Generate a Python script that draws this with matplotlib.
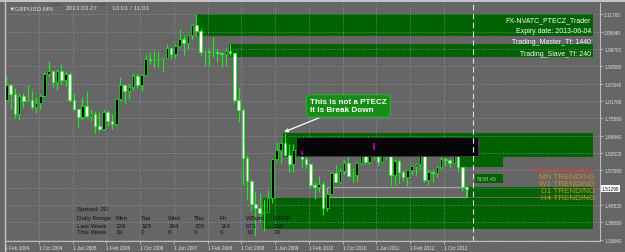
import matplotlib.pyplot as plt
from matplotlib.patches import Rectangle
from matplotlib.lines import Line2D
import numpy as np

plt.rcParams['font.family'] = ['Liberation Sans', 'DejaVu Sans']

# GBPUSD monthly bars, Feb 2004 .. Mar 2013
opens = [1.8200, 1.8700, 1.8400, 1.7700, 1.8340, 1.8150, 1.8200, 1.7950, 1.8100, 1.8350, 1.9100,
         1.9200, 1.8830, 1.9200, 1.8900, 1.9100, 1.8200, 1.7900, 1.7600, 1.8000, 1.7650, 1.7700, 1.7300,
         1.7200, 1.7780, 1.7470, 1.7370, 1.8240, 1.8700, 1.8500, 1.8650, 1.9040, 1.8720, 1.9080, 1.9630,
         1.9580, 1.9600, 1.9620, 1.9660, 2.0000, 1.9800, 2.0060, 2.0310, 2.0160, 2.0440, 2.0800, 2.0600,
         1.9850, 1.9900, 1.9870, 1.9850, 1.9830, 1.9780, 1.9900, 1.9830, 1.8200, 1.7840, 1.6200, 1.5380,
         1.4600, 1.4460, 1.4300, 1.4330, 1.4790, 1.6150, 1.6450, 1.6700, 1.6300, 1.5990, 1.6480, 1.6450,
         1.6150, 1.5980, 1.5240, 1.5180, 1.5290, 1.4460, 1.4950, 1.5680, 1.5340, 1.5740, 1.6030, 1.5560,
         1.5610, 1.6030, 1.6260, 1.6040, 1.6700, 1.6460, 1.6060, 1.6430, 1.6250, 1.5590, 1.6080, 1.5690,
         1.5540, 1.5760, 1.5910, 1.5990, 1.6240, 1.5410, 1.5690, 1.5680, 1.5880, 1.6160, 1.6130, 1.6020,
         1.6260, 1.5860, 1.5170]
highs = [1.9050, 1.8760, 1.8600, 1.8450, 1.8430, 1.8700, 1.8500, 1.8300, 1.8400, 1.9150, 1.9550,
         1.9200, 1.9280, 1.9450, 1.9210, 1.9150, 1.8430, 1.7900, 1.8300, 1.8520, 1.7880, 1.7800, 1.7780,
         1.7880, 1.7860, 1.7700, 1.8250, 1.9000, 1.8760, 1.8740, 1.9130, 1.9140, 1.9110, 1.9790, 1.9850,
         1.9900, 1.9850, 1.9700, 2.0130, 2.0000, 2.0150, 2.0660, 2.0440, 2.0500, 2.0840, 2.1160, 2.0700,
         1.9920, 1.9940, 2.0390, 1.9960, 1.9850, 1.9990, 2.0150, 1.9840, 1.8620, 1.7920, 1.6300, 1.5470,
         1.5060, 1.4990, 1.4780, 1.5080, 1.6190, 1.6740, 1.6740, 1.7040, 1.6660, 1.6690, 1.6880, 1.6560,
         1.6460, 1.5990, 1.5340, 1.5580, 1.5380, 1.5060, 1.5710, 1.5960, 1.5840, 1.6110, 1.6300, 1.5850,
         1.6060, 1.6280, 1.6410, 1.6740, 1.6750, 1.6490, 1.6480, 1.6620, 1.6300, 1.6140, 1.6170, 1.5780,
         1.5790, 1.5960, 1.6000, 1.6300, 1.6270, 1.5780, 1.5790, 1.5910, 1.6310, 1.6180, 1.6140, 1.6310,
         1.6380, 1.5860, 1.5210]
lows = [1.8150, 1.7900, 1.7570, 1.7500, 1.7930, 1.8120, 1.7900, 1.7750, 1.7880, 1.8290, 1.9000,
        1.8650, 1.8550, 1.8750, 1.8670, 1.8140, 1.7850, 1.7270, 1.7520, 1.7580, 1.7460, 1.7050, 1.7130,
        1.7150, 1.7280, 1.7200, 1.7290, 1.8200, 1.8050, 1.8230, 1.8560, 1.8600, 1.8500, 1.9040, 1.9440,
        1.9350, 1.9340, 1.9180, 1.9640, 1.9650, 1.9650, 2.0050, 1.9740, 1.9960, 2.0260, 2.0420, 1.9730,
        1.9360, 1.9360, 1.9690, 1.9520, 1.9350, 1.9360, 1.9730, 1.8110, 1.7440, 1.5250, 1.4720, 1.4360,
        1.3500, 1.3980, 1.3660, 1.4340, 1.4620, 1.6070, 1.6000, 1.6260, 1.5710, 1.5700, 1.6260, 1.5890,
        1.5840, 1.5150, 1.4780, 1.5020, 1.4230, 1.4350, 1.4940, 1.5340, 1.5300, 1.5650, 1.5530, 1.5350,
        1.5350, 1.5960, 1.5980, 1.5990, 1.6160, 1.5910, 1.6000, 1.6110, 1.5270, 1.5270, 1.5330, 1.5390,
        1.5230, 1.5600, 1.5600, 1.5800, 1.5360, 1.5270, 1.5370, 1.5520, 1.5820, 1.5910, 1.5830, 1.6000,
        1.5720, 1.5030, 1.4830]
closes = [1.8700, 1.8400, 1.7700, 1.8340, 1.8150, 1.8200, 1.7950, 1.8100, 1.8350, 1.9100, 1.9200,
          1.8830, 1.9200, 1.8900, 1.9100, 1.8200, 1.7900, 1.7600, 1.8000, 1.7650, 1.7700, 1.7300, 1.7200,
          1.7780, 1.7470, 1.7370, 1.8240, 1.8700, 1.8500, 1.8650, 1.9040, 1.8720, 1.9080, 1.9630, 1.9580,
          1.9600, 1.9620, 1.9660, 2.0000, 1.9800, 2.0060, 2.0310, 2.0160, 2.0440, 2.0800, 2.0600, 1.9850,
          1.9900, 1.9870, 1.9850, 1.9830, 1.9780, 1.9900, 1.9830, 1.8200, 1.7840, 1.6200, 1.5380, 1.4600,
          1.4460, 1.4300, 1.4330, 1.4790, 1.6150, 1.6450, 1.6700, 1.6300, 1.5990, 1.6480, 1.6450, 1.6150,
          1.5980, 1.5240, 1.5180, 1.5290, 1.4460, 1.4950, 1.5680, 1.5340, 1.5740, 1.6030, 1.5560, 1.5610,
          1.6030, 1.6260, 1.6040, 1.6700, 1.6460, 1.6060, 1.6430, 1.6250, 1.5590, 1.6080, 1.5690, 1.5540,
          1.5760, 1.5910, 1.5990, 1.6240, 1.5410, 1.5690, 1.5680, 1.5880, 1.6160, 1.6130, 1.6020, 1.6260,
          1.5860, 1.5170, 1.5129]

time_labels = ["1 Feb 2004", "1 Oct 2004", "1 Jun 2005", "1 Feb 2006", "1 Oct 2006", "1 Jun 2007",
               "1 Feb 2008", "1 Oct 2008", "1 Jun 2009", "1 Feb 2010", "1 Oct 2010", "1 Jun 2011",
               "1 Feb 2012", "1 Oct 2012"]
time_ticks = [0, 8, 16, 24, 32, 40, 48, 56, 64, 72, 80, 88, 96, 104]   # bar index
price_labels = ["2.11760", "2.05640", "1.99700", "1.93580", "1.87640", "1.81700", "1.75580",
                "1.69640", "1.63520", "1.57580", "1.45520", "1.39580", "1.33640"]
price_ticks = [2.1176, 2.0564, 1.9970, 1.9358, 1.8764, 1.8170, 1.7558,
               1.6964, 1.6352, 1.5758, 1.4552, 1.3958, 1.3364]
hidden_grid = [1.5164]
bid = 1.5129

# supply / demand zones: (first bar, last bar, top, bottom)
zones = [(44.9, 139.0, 2.1160, 2.0400),
         (52.7, 139.0, 2.0150, 1.9690),
         (65.5, 139.0, 1.7040, 1.6230),
         (106.8, 117.7, 1.6223, 1.5876),
         (109.1, 139.0, 1.5184, 1.4837),
         (60.8, 139.0, 1.4803, 1.3729)]
outline_box = (76.0, 109.1, 1.5184, 1.4837)
black_box = (68.8, 111.7, 1.6881, 1.6257)
magenta_x = [70, 87]
magenta_lo = [1.6300, 1.6449]
magenta_hi = [1.6425, 1.6691]
value_box = (111.0, 117.7, 1.5634, 1.5322)
value_text = "5158.45"
now_line = 110.5

header = ["FX-NVATC_PTECZ_Trader", "Expiry date: 2013-06-04", "Trading_Master_Tf: 1440", "Trading_Slave_Tf: 240"]
trend_labels = ["MN TRENDING", "W1 TRENDING", "D1 TRENDING", "H4 TRENDING"]
days = ["Mon", "Tue", "Wed", "Thu", "Fri", "WSum", "WADR"]
last_week = [126, 115, 164, 155, 114, 673, 135]
this_week = [19, 0, 0, 0, 0, 19, 19]
spread = 20

BG = '#666666'
GRID = '#8e9cad'
LIME = '#19f019'
ZONE = '#006200'
INK = '#111111'
W, H = 625, 253


def fx(x):
    return x / W


def fy(y):
    return 1 - y / H


fig = plt.figure(figsize=(6.25, 2.53), dpi=100)
fig.patch.set_facecolor(BG)
ax = fig.add_axes([fx(5), fy(242), 595 / W, 238 / H])
ax.set_facecolor(BG)
ax.set_xlim(-0.355, 140.64)
ax.set_ylim(1.3313, 2.1557)

# window frame
fig.patches.append(Rectangle((0, fy(3)), 1, 3 / H, transform=fig.transFigure, fc='#c4c4c4', ec='none'))
fig.lines.append(Line2D([fx(5), fx(5)], [0, fy(3)], transform=fig.transFigure, color='#c4c4c4', lw=1))

for s in ['left', 'top']:
    ax.spines[s].set_visible(False)
for s in ['right', 'bottom']:
    ax.spines[s].set_color('#bdbdbd')
    ax.spines[s].set_linewidth(0.8)

# grid
xl = ax.get_xlim()
yl = ax.get_ylim()
tick_pos = [t - 0.35 for t in time_ticks]
ax.hlines(price_ticks + hidden_grid, xl[0], xl[1], colors=GRID, linestyles=(0, (1, 2)), lw=0.6, zorder=1.5)
ax.vlines(tick_pos, yl[0], yl[1], colors=GRID, linestyles=(0, (1, 2)), lw=0.6, zorder=1.5)

# zones
for a, b, top, bot in zones:
    ax.add_patch(Rectangle((a, bot), b - a, top - bot, fc=ZONE, ec='none', zorder=1))
a, b, top, bot = outline_box
ax.add_patch(Rectangle((a, bot), b - a, top - bot, fc='none', ec='#a2a2a2', lw=0.8, zorder=1.2))
a, b, top, bot = value_box
ax.add_patch(Rectangle((a, bot), b - a, top - bot, fc=ZONE, ec='none', zorder=1))
ax.text(a + 0.5, (top + bot) / 2, value_text, fontsize=4, color='#a9cfa9', va='center', ha='left', zorder=5)

# candles
idx = np.arange(len(opens))
o = np.array(opens)
h = np.array(highs)
l = np.array(lows)
c = np.array(closes)
ax.vlines(idx, l, h, color=LIME, lw=0.8, zorder=2)
up = c >= o
ax.bar(idx, np.maximum(np.abs(c - o), 0.002), bottom=np.minimum(o, c), width=0.62,
       color=np.where(up, 'black', 'white'), edgecolor=LIME, lw=0.5, zorder=3)

# black panel over the range
a, b, top, bot = black_box
ax.add_patch(Rectangle((a + 0.5, bot - 0.004), b - a, top - bot, fc='#3c3c3c', ec='none', zorder=3.9))
ax.add_patch(Rectangle((a, bot), b - a, top - bot, fc='#050505', ec='none', zorder=4))
ax.vlines(magenta_x, magenta_lo, magenta_hi, color='#c000c0', lw=1.2, zorder=5)

ax.axvline(now_line, color='#dedede', ls=(0, (5, 3)), lw=0.8, zorder=4)

ax.annotate("This is not a PTECZ\nIt is Break Down", xy=(65.8, 1.709), xytext=(81, 1.799),
            ha='center', va='center', multialignment='left', fontsize=5.9, fontweight='bold', color='white',
            bbox=dict(boxstyle='round,pad=0.45,rounding_size=0.5', fc='#178c17', ec='#3aa83a', lw=0.8),
            arrowprops=dict(arrowstyle='-|>', color='white', lw=0.9, mutation_scale=5, shrinkA=0, shrinkB=0),
            zorder=6)

# axes ticks
ax.yaxis.tick_right()
ax.set_yticks(price_ticks, price_labels)
ax.set_xticks(tick_pos, time_labels)
ax.tick_params(axis='y', length=2, width=0.6, color='#bdbdbd', pad=1, labelsize=3.4, labelcolor='#e4e4e4')
ax.tick_params(axis='x', length=2, width=0.6, color='#bdbdbd', pad=1, labelsize=3.4, labelcolor='#e4e4e4')
for lab in ax.get_xticklabels():
    lab.set_ha('left')
ax.text(1.003, bid, "1.51290", transform=ax.get_yaxis_transform(), fontsize=3.4, color='black',
        va='center', ha='left', bbox=dict(boxstyle='square,pad=0.15', fc='white', ec='none'), zorder=6)

# title
fig.text(fx(9), fy(9), "\u25bcGBPUSD,MN", fontsize=4.6, color='#dcdcdc', va='center')
fig.text(fx(49), fy(5.5), "1.51320", fontsize=2.6, color='#444444', va='center')
fig.text(fx(66), fy(9), "2013.03.27", fontsize=4.6, color='#dcdcdc', va='center')
fig.text(fx(94), fy(5.5), "1.51290", fontsize=2.6, color='#444444', va='center')
fig.text(fx(112), fy(9), "10:01 / 11:01", fontsize=4.6, color='#dcdcdc', va='center')

# indicator header
for i, t in enumerate(header):
    fig.text(fx(591), fy(21 + 11 * i), t, fontsize=5, color='white', ha='right', va='center')

# trend status
fig.text(fx(595), fy(170.5), "PTECZ_Cleanup OFF", fontsize=4.6, color='#ff2a2a', ha='right', va='center')
trend_colors = ['#dd8a2c', '#dd8a2c', '#cc951f', '#cc951f']
for i, t in enumerate(trend_labels):
    fig.text(fx(595), fy(177.5 + 7 * i), t, fontsize=5.8, color=trend_colors[i], ha='right', va='center')

# daily range table
col_x = [115, 141, 168, 194, 220, 246, 273]
fs = 4.5
fig.text(fx(77), fy(209.3), "Spread: %d" % spread, fontsize=fs, color=INK, va='center')
fig.text(fx(77), fy(219), "Daily Range", fontsize=fs, color=INK, va='center')
fig.text(fx(77), fy(226.8), "Last Week", fontsize=fs, color=INK, va='center')
fig.text(fx(77), fy(233), "This Week", fontsize=fs, color=INK, va='center')
for x, d, lw_, tw in zip(col_x, days, last_week, this_week):
    fig.text(fx(x), fy(219), d, fontsize=fs, color=INK, va='center')
    fig.text(fx(x), fy(226.8), str(lw_), fontsize=fs, color=INK, va='center')
    fig.text(fx(x), fy(233), str(tw), fontsize=fs, color=INK, va='center')

fig.savefig('out.png', dpi=100, facecolor=BG)
